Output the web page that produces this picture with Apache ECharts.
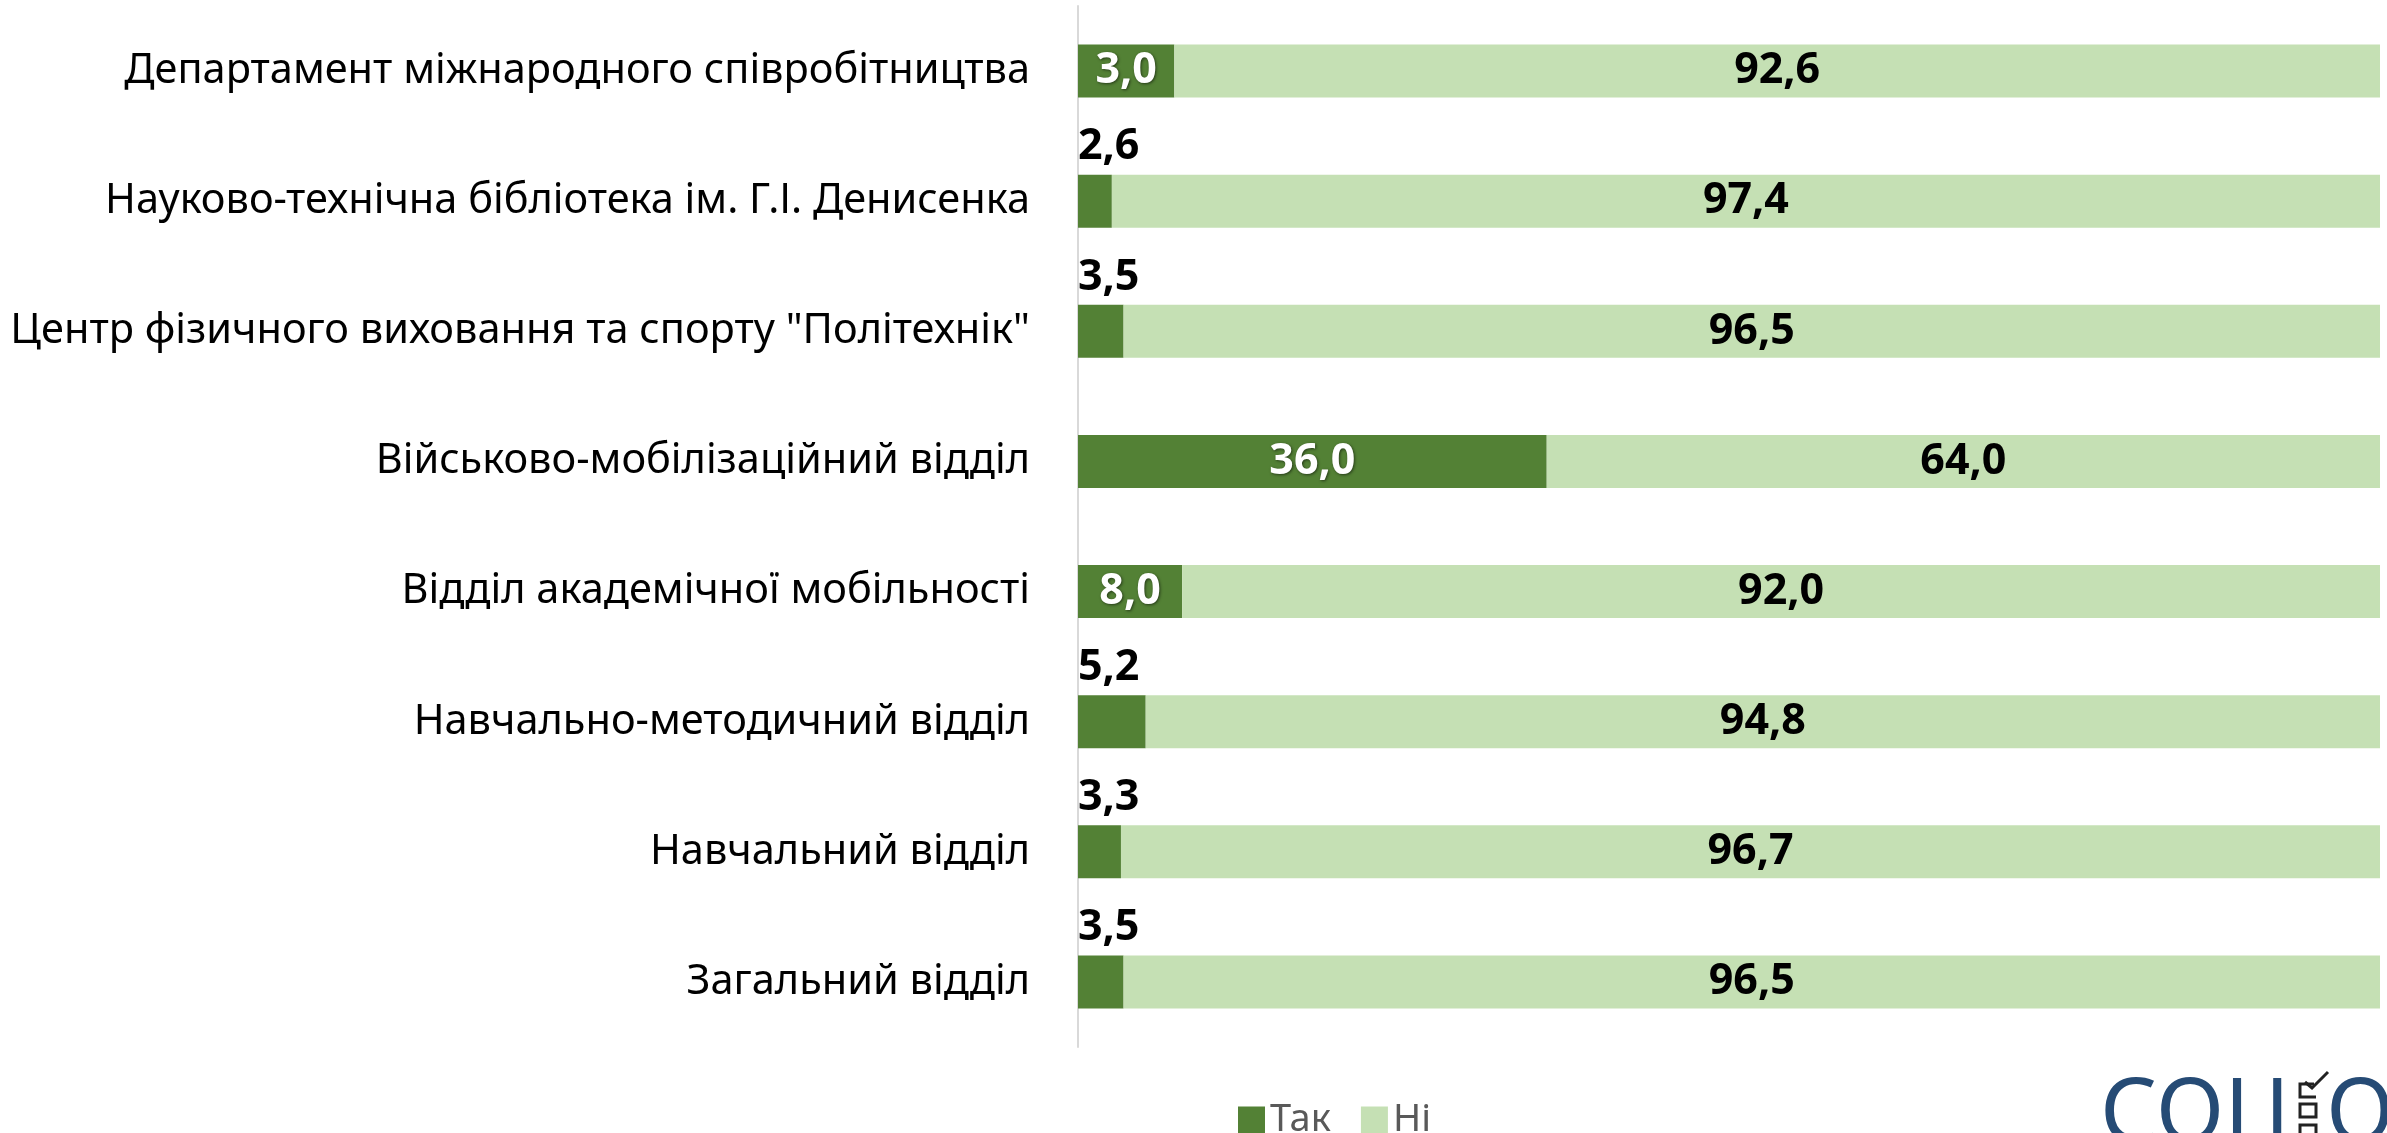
<!DOCTYPE html>
<html>
<head>
<meta charset="utf-8">
<script src="https://cdn.jsdelivr.net/npm/echarts@6/dist/echarts.min.js"></script>
<style>
  html, body { margin: 0; padding: 0; background: #fff; }
  #chart { width: 2387px; height: 1133px; }
</style>
</head>
<body>
<div id="chart"></div>
<script>
const categories = [
  'Департамент міжнародного співробітництва',
  'Науково-технічна бібліотека ім. Г.І. Денисенка',
  'Центр фізичного виховання та спорту "Політехнік"',
  'Військово-мобілізаційний відділ',
  'Відділ академічної мобільності',
  'Навчально-методичний відділ',
  'Навчальний відділ',
  'Загальний відділ'
]
// bar lengths as drawn in the picture
const takValues = [7.4, 2.6, 3.5, 36.0, 8.0, 5.2, 3.3, 3.5]
const niValues = [92.6, 97.4, 96.5, 64.0, 92.0, 94.8, 96.7, 96.5]
// printed labels
const takLabels = ['3,0', '2,6', '3,5', '36,0', '8,0', '5,2', '3,3', '3,5']
const niLabels = ['92,6', '97,4', '96,5', '64,0', '92,0', '94,8', '96,7', '96,5']

const font = '"Noto Sans", "Open Sans", sans-serif'

const chart = echarts.init(document.getElementById('chart'))

// wide bars keep the label inside (white), narrow ones print it above the bar
const takData = takValues.map((v, i) => {
  if (v > 6) {
    return {
      value: v,
      label: {
        position: 'inside',
        color: '#fff',
        textShadowColor: 'rgba(0,0,0,0.55)',
        textShadowBlur: 3,
        textShadowOffsetX: 1,
        textShadowOffsetY: 1
      }
    }
  }
  return {
    value: v,
    label: {
      position: [0, -6],
      align: 'left',
      verticalAlign: 'bottom',
      color: '#000'
    }
  }
})

chart.setOption({
  animation: false,
  grid: {
    left: 1078,
    right: 7,
    top: 6,
    bottom: 86
  },
  xAxis: {
    type: 'value',
    min: 0,
    max: 100,
    show: false
  },
  yAxis: {
    type: 'category',
    data: categories,
    inverse: true,
    axisLine: { show: true, lineStyle: { color: '#d9d9d9', width: 2 } },
    axisTick: { show: false },
    axisLabel: {
      color: '#000',
      fontFamily: font,
      fontSize: 41.5,
      margin: 48
    }
  },
  legend: {
    left: 1233,
    top: 1096,
    itemWidth: 27,
    itemHeight: 27,
    itemGap: 30,
    icon: 'rect',
    textStyle: { color: '#595959', fontFamily: font, fontSize: 38 },
    data: ['Так', 'Ні']
  },
  series: [
    {
      name: 'Так',
      type: 'bar',
      stack: 'total',
      barWidth: 53,
      itemStyle: { color: '#538135' },
      label: {
        show: true,
        fontFamily: font,
        fontSize: 43,
        fontWeight: 'bold',
        formatter: p => takLabels[p.dataIndex]
      },
      data: takData
    },
    {
      name: 'Ні',
      type: 'bar',
      stack: 'total',
      barWidth: 53,
      itemStyle: { color: '#c5e0b4' },
      label: {
        show: true,
        position: 'inside',
        color: '#000',
        fontFamily: font,
        fontSize: 43,
        fontWeight: 'bold',
        formatter: p => niLabels[p.dataIndex]
      },
      data: niValues
    }
  ],
  graphic: [
    // logo, cut by the bottom edge
    {
      type: 'text',
      left: 2100,
      top: 1071,
      style: { text: 'СОЦ', fill: '#264b75', font: '400 90px "Noto Sans", sans-serif' }
    },
    {
      type: 'text',
      left: 2326,
      top: 1071,
      style: { text: 'О', fill: '#264b75', font: '400 90px "Noto Sans", sans-serif' }
    },
    {
      type: 'polyline',
      shape: { points: [[2314, 1084], [2300, 1084], [2300, 1097], [2316, 1097]] },
      style: { fill: 'none', stroke: '#222', lineWidth: 3 }
    },
    {
      type: 'rect',
      shape: { x: 2300, y: 1104, width: 16, height: 13 },
      style: { fill: 'none', stroke: '#222', lineWidth: 3 }
    },
    {
      type: 'rect',
      shape: { x: 2300, y: 1125, width: 16, height: 13 },
      style: { fill: 'none', stroke: '#222', lineWidth: 3 }
    },
    {
      type: 'polyline',
      shape: { points: [[2305, 1082], [2312, 1088], [2328, 1072]] },
      style: { fill: 'none', stroke: '#222', lineWidth: 3 }
    }
  ]
})

window.onresize = function () {
  chart.resize()
}
</script>
</body>
</html>
